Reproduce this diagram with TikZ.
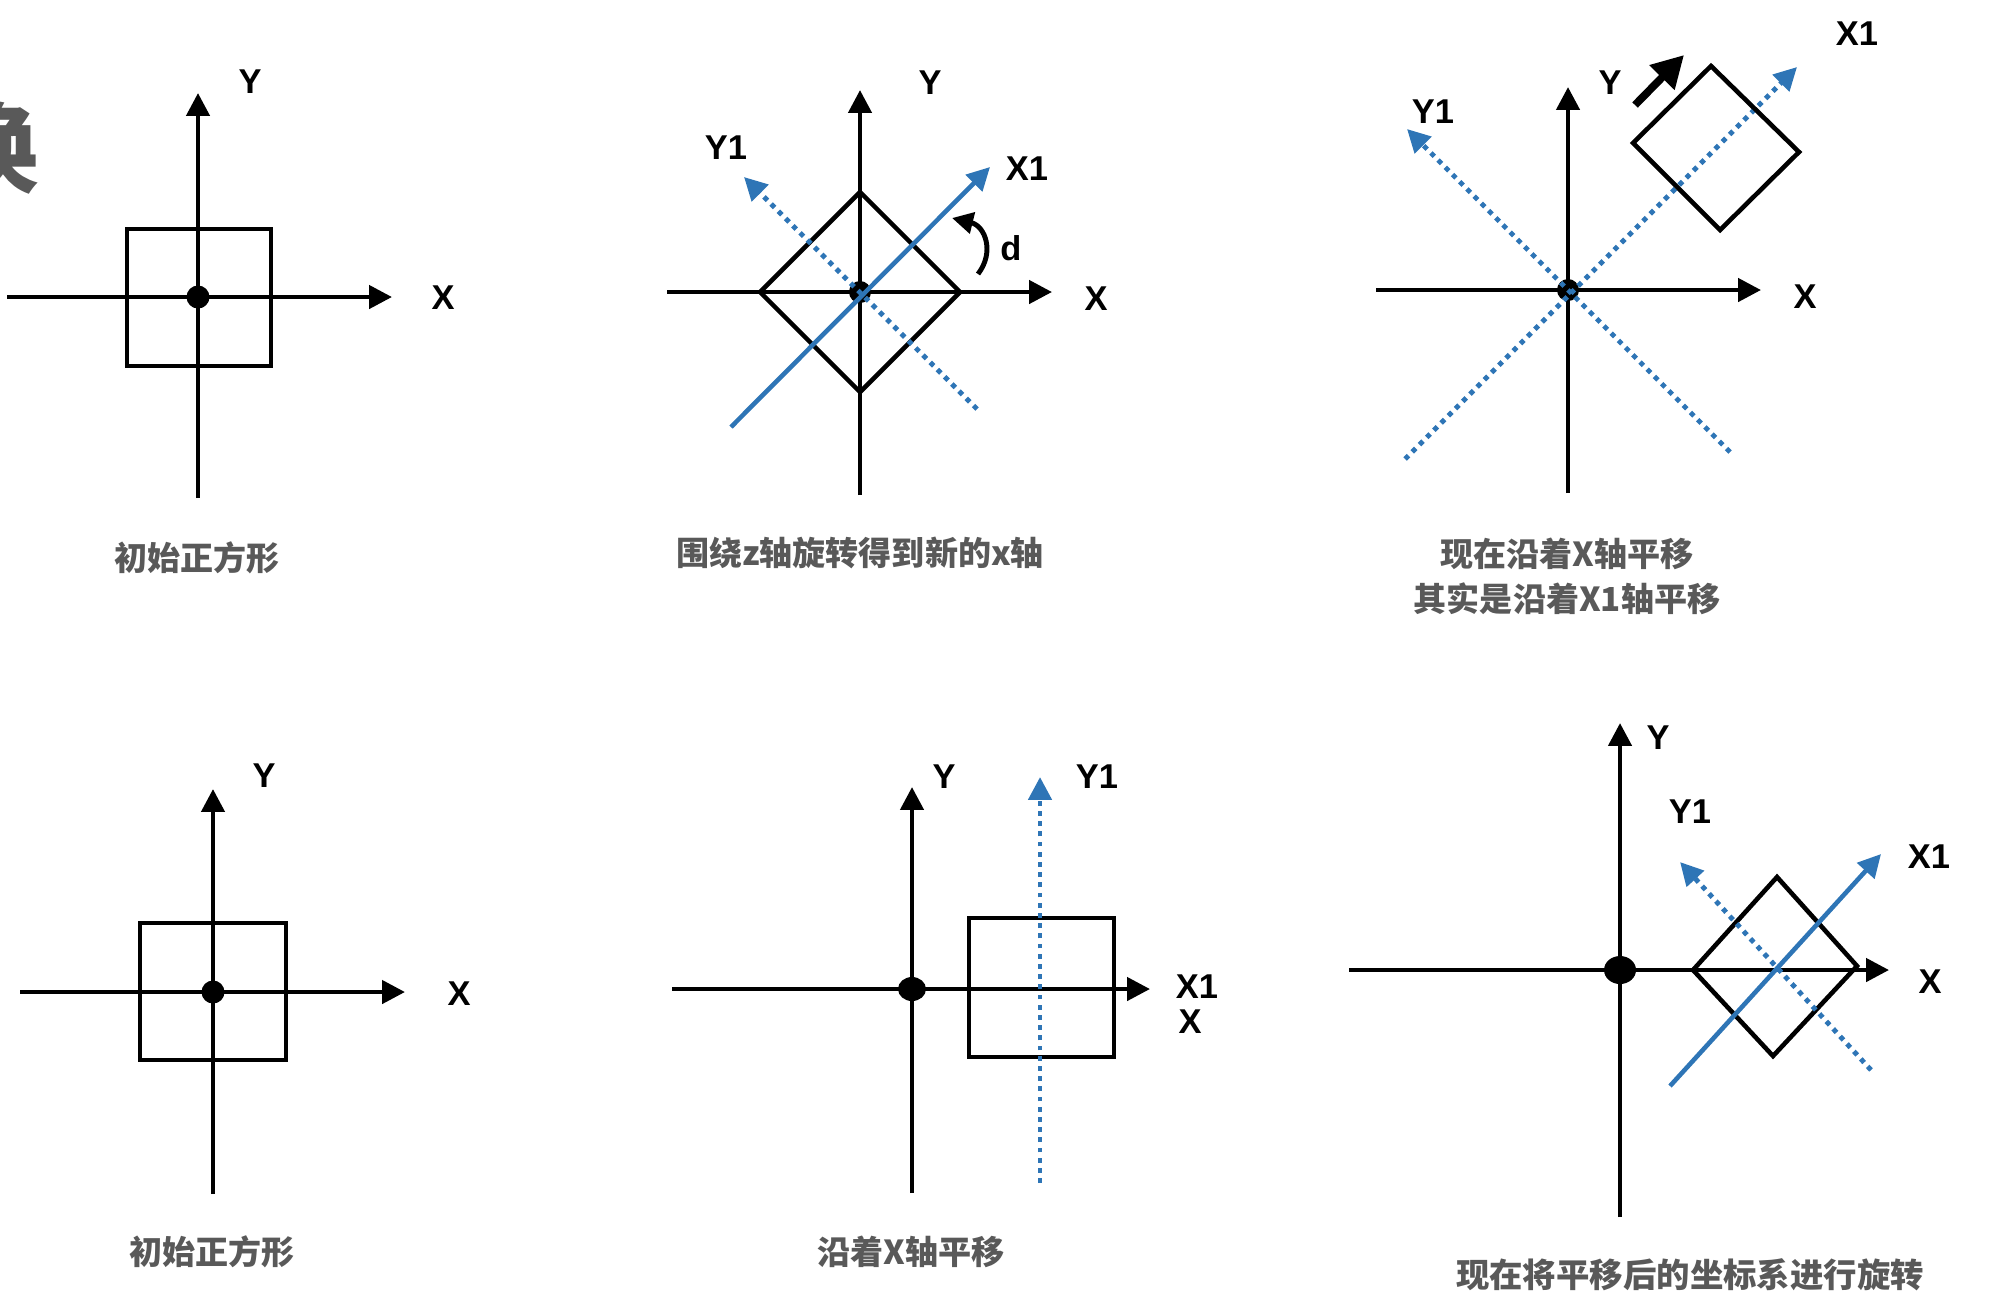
\documentclass[tikz,border=0pt]{standalone}
\usepackage{fontspec}
\setmainfont{Liberation Sans}
\newfontfamily\cjk{Noto Sans CJK SC}
\usetikzlibrary{arrows.meta}

\definecolor{axblue}{HTML}{2E75B6}
\definecolor{capgrey}{HTML}{595959}

\tikzset{
  axisline/.style={line width=1.3pt, -{Triangle[length=6.5pt,width=6.5pt]}},
  figline/.style={line width=1.3pt, line join=miter},
  newaxis/.style={axblue, line width=1.3pt, -{Triangle[length=6.5pt,width=6.5pt]}},
  newdots/.style={axblue, line width=1.4pt, dash pattern=on 1.4pt off 1.5pt,
    -{Triangle[length=6.5pt,width=6.5pt]}},
  lbl/.style={font=\bfseries\fontsize{9.8}{11}\selectfont},
  capnode/.style={font=\cjk\bfseries\fontsize{9.4}{12.8}\selectfont,
    text=capgrey, align=center},
}

% axes cross: prefix, origin x, origin y, x-left, x-right, y-top, y-bottom
\providecommand{\axescross}[7]{%
  \coordinate (#1o)  at (#2,#3);
  \coordinate (#1xl) at (#4,#3);
  \coordinate (#1xr) at (#5,#3);
  \coordinate (#1yt) at (#2,#6);
  \coordinate (#1yb) at (#2,#7);
  \draw[axisline] (#1xl) -- (#1xr);
  \draw[axisline] (#1yb) -- (#1yt);
}

\begin{document}
\begin{tikzpicture}[x=0.01cm, y=-0.01cm]

  \useasboundingbox (0,0) rectangle (2004,1308);

  % title glyph cut off at the left edge
  \node[font=\cjk\bfseries\fontsize{28.5}{30}\selectfont, text=capgrey]
    (title) at (-11,148) {换};

  % --------------------------------------------------------------------------
  % TOP LEFT: initial square
  % --------------------------------------------------------------------------
  \axescross{a}{198}{297}{7}{392}{93}{498}
  \draw[figline] (127,229) rectangle (271,366);
  \fill (ao) circle (11.5);

  \node[lbl] (aYlab) at (250,82)  {Y};
  \node[lbl] (aXlab) at (443,298) {X};
  \node[capnode] (aCap) at (197,558) {初始正方形};

  % --------------------------------------------------------------------------
  % TOP MIDDLE: rotate about z, new x axis
  % --------------------------------------------------------------------------
  \axescross{b}{860}{292}{667}{1052}{90}{495}
  \draw[figline] (760,292) -- (860,192) -- (960,292) -- (860,392) -- cycle;
  \fill (bo) circle (11);

  \coordinate (bx1s) at (731,427);
  \coordinate (bx1e) at (990,167);
  \coordinate (by1s) at (977,409);
  \coordinate (by1e) at (744,177);
  \draw[newaxis] (bx1s) -- (bx1e);
  \draw[newdots] (by1s) -- (by1e);

  % rotation hint
  \coordinate (brs) at (978,274);
  \coordinate (bre) at (952,218);
  \draw[line width=1.4pt, -{Triangle[length=6pt,width=6pt]}]
    (brs) .. controls (995,252) and (985,226) .. (bre);

  \node[lbl] (bYlab)  at (930,83)   {Y};
  \node[lbl] (bY1lab) at (726,148)  {Y1};
  \node[lbl] (bX1lab) at (1027,169) {X1};
  \node[lbl] (bXlab)  at (1096,299) {X};
  \node[lbl] (bdlab)  at (1011,248) {d};
  \node[capnode] (bCap) at (860,553) {围绕z轴旋转得到新的x轴};

  % --------------------------------------------------------------------------
  % TOP RIGHT: moving along X is really moving along X1
  % --------------------------------------------------------------------------
  \axescross{c}{1568}{290}{1376}{1761}{87}{493}
  \fill (co) circle (11);

  \coordinate (cx1s) at (1405,459);
  \coordinate (cx1e) at (1797,67);
  \coordinate (cy1s) at (1730,452);
  \coordinate (cy1e) at (1407,129);
  \draw[newdots] (cx1s) -- (cx1e);
  \draw[newdots] (cy1s) -- (cy1e);

  \draw[figline] (1711,66) -- (1799,152) -- (1720,230) -- (1633,143) -- cycle;

  \coordinate (cms) at (1635,105);
  \coordinate (cme) at (1684,55);
  \draw[line width=2.2pt, -{Triangle[length=9pt,width=9.5pt]}] (cms) -- (cme);

  \node[lbl] (cYlab)  at (1610,83)  {Y};
  \node[lbl] (cY1lab) at (1433,112) {Y1};
  \node[lbl] (cX1lab) at (1857,34)  {X1};
  \node[lbl] (cXlab)  at (1805,297) {X};
  \node[capnode] (cCap) at (1567,576)
    {现在沿着X轴平移\\其实是沿着X1轴平移};

  % --------------------------------------------------------------------------
  % BOTTOM LEFT: initial square
  % --------------------------------------------------------------------------
  \axescross{d}{213}{992}{20}{405}{789}{1194}
  \draw[figline] (140,923) rectangle (286,1060);
  \fill (do) circle (11.5);

  \node[lbl] (dYlab) at (264,776) {Y};
  \node[lbl] (dXlab) at (459,994) {X};
  \node[capnode] (dCap) at (212,1252) {初始正方形};

  % --------------------------------------------------------------------------
  % BOTTOM MIDDLE: translate along X
  % --------------------------------------------------------------------------
  \axescross{e}{912}{989}{672}{1150}{787}{1193}
  \fill (eo) ellipse (14 and 12);
  \draw[figline] (969,918) rectangle (1114,1057);

  \coordinate (ey1s) at (1040,1183);
  \coordinate (ey1e) at (1040,777);
  \draw[newdots] (ey1s) -- (ey1e);

  \node[lbl] (eYlab)  at (944,777)   {Y};
  \node[lbl] (eY1lab) at (1097,777)  {Y1};
  \node[lbl] (eX1lab) at (1197,987)  {X1};
  \node[lbl] (eXlab)  at (1190,1022) {X};
  \node[capnode] (eCap) at (911,1252) {沿着X轴平移};

  % --------------------------------------------------------------------------
  % BOTTOM RIGHT: rotate the translated frame
  % --------------------------------------------------------------------------
  \axescross{f}{1620}{970}{1349}{1889}{723}{1217}
  \fill (fo) ellipse (16 and 14);
  \draw[figline] (1693,970) -- (1777,877) -- (1857,966) -- (1773,1056) -- cycle;

  \coordinate (fx1s) at (1670,1086);
  \coordinate (fx1e) at (1881,854);
  \coordinate (fy1s) at (1871,1070);
  \coordinate (fy1e) at (1680,862);
  \draw[newaxis] (fx1s) -- (fx1e);
  \draw[newdots] (fy1s) -- (fy1e);

  \node[lbl] (fYlab)  at (1658,738) {Y};
  \node[lbl] (fY1lab) at (1690,812) {Y1};
  \node[lbl] (fX1lab) at (1929,857) {X1};
  \node[lbl] (fXlab)  at (1930,982) {X};
  \node[capnode, font=\cjk\bfseries\fontsize{9.5}{12}\selectfont]
    (fCap) at (1690,1275) {现在将平移后的坐标系进行旋转};

\end{tikzpicture}
\end{document}
